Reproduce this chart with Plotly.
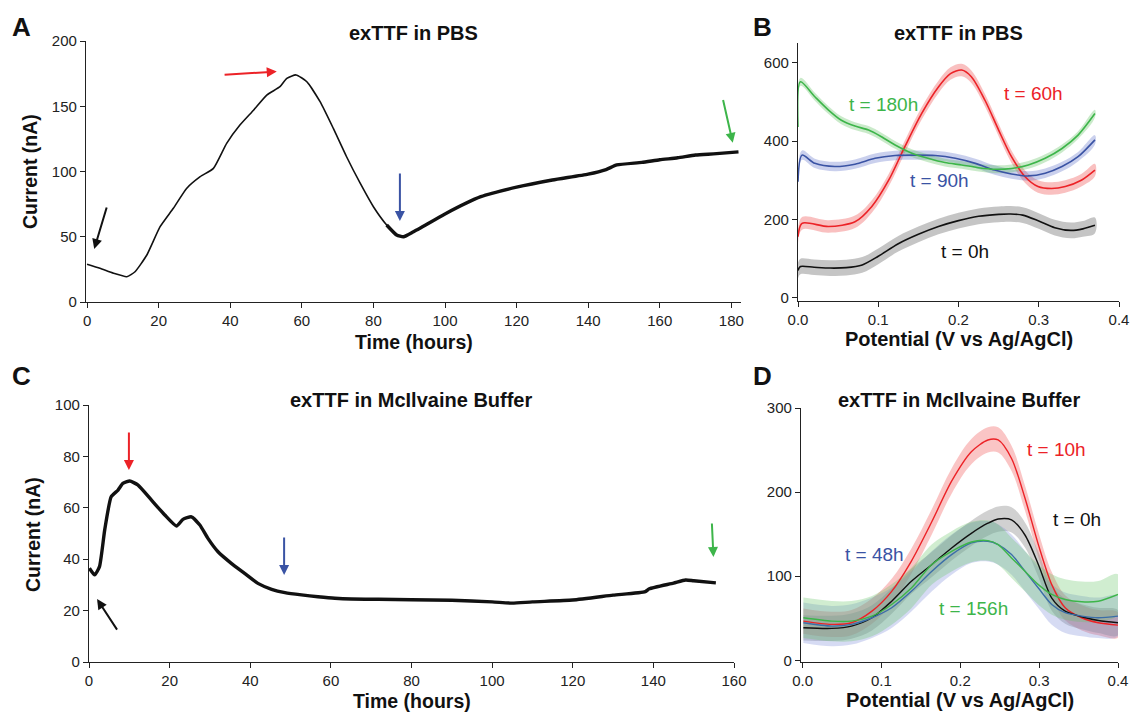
import plotly.graph_objects as go

# ---------------- data ----------------
# Panel A: exTTF in PBS, current vs time
time_a = [0, 3.6, 7.4, 11.1, 13.4, 16.7, 20.4, 24.1, 27.8, 31.6, 35.3, 39.0, 42.7, 46.5,
          50.2, 53.9, 55.8, 58.4, 61.4, 65.1, 68.8, 72.5, 76.3, 80.0, 83.7, 86.5, 88.4,
          91.2, 93.0, 100, 110, 120, 130, 140, 145, 148, 155, 160, 165, 170, 175, 182]
current_a = [28.9, 25.8, 22.0, 19.4, 23.2, 36.0, 57.7, 71.8, 87.0, 96.0, 102.4, 121.6, 135.6, 147.0,
             158.6, 165.0, 171.4, 174.0, 168.8, 153.5, 133.0, 111.3, 91.0, 73.0, 59.0, 51.3, 50.0,
             53.9, 56.5, 67.5, 80.7, 88.0, 93.5, 98.0, 101.5, 105.0, 107.0, 109.0, 110.5, 112.6, 113.5, 115.0]

# Panel C: exTTF in McIlvaine Buffer, current vs time
time_c = [0.1, 1.4, 2.6, 3.9, 5.5, 7.2, 8.4, 10.1, 12.1, 15.5, 18.8, 21.7, 23.3, 25.4, 27.5,
          29.5, 32.0, 35.3, 38.6, 41.9, 45.3, 48.6, 52.7, 56.8, 61.0, 65.1, 71.8, 80, 90,
          100, 105, 110, 120, 130, 138, 139, 145, 148, 150, 155.5]
current_c = [36.5, 33.9, 37.1, 51.4, 64.3, 66.9, 69.5, 70.4, 68.9, 63.0, 57.2, 52.9, 55.5, 56.5, 53.3,
             48.1, 42.9, 38.4, 34.5, 30.6, 28.3, 27.0, 26.1, 25.4, 24.8, 24.5, 24.4, 24.2, 24.0,
             23.4, 22.9, 23.4, 24.1, 26.0, 27.4, 28.5, 30.7, 31.9, 31.6, 30.8]

# Panel B: voltammograms in PBS (potential V, current nA)
pot_b_0 = [0, 0.003, 0.02, 0.04, 0.06, 0.08, 0.1, 0.125, 0.15, 0.175, 0.2, 0.225, 0.25, 0.265,
           0.28, 0.3, 0.32, 0.34, 0.355, 0.37]
cur_b_0 = [70, 80, 78, 76, 77, 84, 106, 138, 162, 182, 197, 208, 213, 214, 211, 196, 179, 172, 176, 185]
pot_b_60 = [0, 0.005, 0.038, 0.071, 0.092, 0.113, 0.133, 0.154, 0.175, 0.19, 0.204, 0.216, 0.233,
            0.25, 0.266, 0.283, 0.299, 0.316, 0.333, 0.353, 0.37]
cur_b_60 = [156, 190, 182, 194, 233, 300, 385, 470, 538, 572, 581, 564, 504, 428, 360, 309, 284,
            279, 284, 300, 326]
pot_b_90 = [0, 0.005, 0.021, 0.046, 0.071, 0.096, 0.121, 0.146, 0.171, 0.196, 0.221, 0.245, 0.266,
            0.287, 0.308, 0.329, 0.349, 0.37]
cur_b_90 = [296, 364, 343, 335, 341, 356, 363, 364, 363, 356, 343, 326, 316, 311, 318, 335, 360, 403]
pot_b_180 = [0, 0.003, 0.021, 0.038, 0.054, 0.071, 0.088, 0.104, 0.121, 0.142, 0.162, 0.183, 0.204,
             0.225, 0.245, 0.266, 0.287, 0.308, 0.329, 0.349, 0.37]
cur_b_180 = [436, 551, 513, 479, 453, 438, 428, 411, 390, 369, 356, 345, 339, 332, 328, 330, 339,
             356, 381, 415, 470]
err_b = {"0h": 20, "60h": 16, "90h": 12, "180h": 10}

# Panel D: voltammograms in McIlvaine buffer
pot_d = [0.001, 0.037, 0.062, 0.088, 0.113, 0.138, 0.164, 0.189, 0.214, 0.235, 0.248, 0.265,
         0.282, 0.299, 0.316, 0.333, 0.354, 0.375, 0.4]
cur_d_10 = [46.6, 42.7, 44.7, 58.5, 82, 118, 165, 213, 248, 262, 262, 240, 193, 137.6, 90, 62.5,
            50.6, 44.7, 41.9]
cur_d_0 = [38.7, 38.0, 40.7, 50.6, 70.3, 94, 114, 133.6, 151, 163, 168, 167, 149, 114, 74, 58.5,
           51.8, 47.4, 44.7]
cur_d_48 = [44.7, 40.7, 42.7, 50.6, 62.5, 82, 106, 125.7, 139.6, 141.5, 137.6, 125.7, 106, 86,
            66.4, 56.6, 52.6, 50.6, 52.6]
cur_d_156 = [50.6, 46.6, 46.6, 52.6, 66.4, 86, 114, 129.6, 140.7, 142.3, 137.6, 121.8, 106, 90,
             78.3, 72.3, 69.6, 70.3, 78.3]
err_d = {"10h": 15, "0h": 15, "48h": 24, "156h": 24}

# axis ticks
ticks_a_x = [0, 20, 40, 60, 80, 100, 120, 140, 160, 180]
ticks_a_y = [0, 50, 100, 150, 200]
ticks_b_y = [0, 200, 400, 600]
ticks_c_x = [0, 20, 40, 60, 80, 100, 120, 140, 160]
ticks_c_y = [0, 20, 40, 60, 80, 100]
ticks_d_y = [0, 100, 200, 300]
ticks_pot = [0.0, 0.1, 0.2, 0.3, 0.4]

# ---------------- figure ----------------
W, H = 1131, 713
FONT = "Liberation Sans, Arial, Helvetica, sans-serif"
RED, GREEN, BLUE, BLACK = "#ec2227", "#3db54a", "#3a53a4", "#111111"


def fx(px):
    return px / W


def fy(py):
    return 1 - py / H


fig = go.Figure()

# Panel A
fig.add_trace(go.Scatter(x=time_a[:27], y=current_a[:27], mode="lines",
                         line=dict(color=BLACK, width=1.6, shape="spline", smoothing=0.5),
                         xaxis="x", yaxis="y", showlegend=False))
fig.add_trace(go.Scatter(x=time_a[24:], y=current_a[24:], mode="lines",
                         line=dict(color=BLACK, width=3.4, shape="spline", smoothing=0.5),
                         xaxis="x", yaxis="y", showlegend=False))

# Panel C
fig.add_trace(go.Scatter(x=time_c, y=current_c, mode="lines",
                         line=dict(color=BLACK, width=3.4, shape="spline", smoothing=0.5),
                         xaxis="x3", yaxis="y3", showlegend=False))


def band(x, y, e, fill, xa, ya):
    up = [v + e for v in y]
    lo = [v - e for v in y]
    fig.add_trace(go.Scatter(x=list(x) + list(x)[::-1], y=up + lo[::-1], mode="lines",
                             fill="toself", fillcolor=fill, line=dict(width=0, shape="spline"),
                             xaxis=xa, yaxis=ya, hoverinfo="skip", showlegend=False))


def curve(x, y, color, xa, ya, w=1.6):
    fig.add_trace(go.Scatter(x=x, y=y, mode="lines",
                             line=dict(color=color, width=w, shape="spline", smoothing=0.8),
                             xaxis=xa, yaxis=ya, showlegend=False))


# Panel B
band(pot_b_0, cur_b_0, err_b["0h"], "rgba(150,150,150,0.55)", "x2", "y2")
band(pot_b_60, cur_b_60, err_b["60h"], "rgba(240,90,90,0.38)", "x2", "y2")
band(pot_b_90, cur_b_90, err_b["90h"], "rgba(90,110,200,0.32)", "x2", "y2")
band(pot_b_180, cur_b_180, err_b["180h"], "rgba(90,190,90,0.32)", "x2", "y2")
curve(pot_b_0, cur_b_0, BLACK, "x2", "y2")
curve(pot_b_60, cur_b_60, RED, "x2", "y2")
curve(pot_b_90, cur_b_90, BLUE, "x2", "y2")
curve(pot_b_180, cur_b_180, GREEN, "x2", "y2")

# Panel D
band(pot_d, cur_d_10, err_d["10h"], "rgba(240,90,90,0.35)", "x4", "y4")
band(pot_d, cur_d_0, err_d["0h"], "rgba(140,140,140,0.40)", "x4", "y4")
band(pot_d, cur_d_48, err_d["48h"], "rgba(120,135,215,0.30)", "x4", "y4")
band(pot_d, cur_d_156, err_d["156h"], "rgba(100,195,100,0.30)", "x4", "y4")
curve(pot_d, cur_d_10, RED, "x4", "y4", 1.4)
curve(pot_d, cur_d_0, BLACK, "x4", "y4", 1.4)
curve(pot_d, cur_d_48, "#3b6ea8", "x4", "y4", 1.4)
curve(pot_d, cur_d_156, GREEN, "x4", "y4", 1.4)

axis_common = dict(showline=True, linecolor="#222", linewidth=1.3, ticks="outside", ticklen=5,
                   tickwidth=1.2, tickcolor="#222", showgrid=False, zeroline=False,
                   automargin=False,
                   tickfont=dict(family=FONT, size=15, color="#222"), fixedrange=True)

fig.update_layout(
    template="none",
    width=W, height=H, margin=dict(l=0, r=0, t=0, b=0, pad=0),
    paper_bgcolor="white", plot_bgcolor="white",
    font=dict(family=FONT, color="#111"),
    xaxis=dict(axis_common, domain=[fx(86), fx(741)], range=[-0.3, 182.7], tickvals=ticks_a_x,
               anchor="y"),
    yaxis=dict(axis_common, domain=[fy(302), fy(41)], range=[0, 200], tickvals=ticks_a_y,
               anchor="x"),
    xaxis2=dict(axis_common, domain=[fx(798), fx(1119)], range=[0, 0.4], tickvals=ticks_pot,
                tickformat=".1f", anchor="y2"),
    yaxis2=dict(axis_common, domain=[fy(301), fy(43)], range=[-8, 650], tickvals=ticks_b_y,
                anchor="x2"),
    xaxis3=dict(axis_common, domain=[fx(89), fx(734)], range=[0, 160], tickvals=ticks_c_x,
                anchor="y3"),
    yaxis3=dict(axis_common, domain=[fy(662), fy(405)], range=[0, 100], tickvals=ticks_c_y,
                anchor="x3"),
    xaxis4=dict(axis_common, domain=[fx(801), fx(1118)], range=[-0.002, 0.4], tickvals=ticks_pot,
                tickformat=".1f", anchor="y4"),
    yaxis4=dict(axis_common, domain=[fy(662), fy(408)], range=[-2, 300], tickvals=ticks_d_y,
                anchor="x4"),
)

ann = []


def text(px, py, s, size, color="#111", bold=False, angle=0):
    ann.append(dict(x=fx(px), y=fy(py), xref="paper", yref="paper", text=f"<b>{s}</b>" if bold else s,
                    showarrow=False, xanchor="center", yanchor="middle", textangle=angle,
                    font=dict(family=FONT, size=size, color=color)))


# panel letters
text(21, 27, "A", 26, bold=True)
text(762, 27, "B", 26, bold=True)
text(21, 376, "C", 26, bold=True)
text(762, 376, "D", 26, bold=True)
# titles
text(413, 33, "exTTF in PBS", 20, bold=True)
text(958, 33, "exTTF in PBS", 20, bold=True)
text(411, 400, "exTTF in McIlvaine Buffer", 20, bold=True)
text(959, 400, "exTTF in McIlvaine Buffer", 20, bold=True)
# axis titles
text(414, 342, "Time (hours)", 19.5, bold=True)
text(412, 701, "Time (hours)", 19.5, bold=True)
text(959, 339, "Potential (V vs Ag/AgCl)", 20, bold=True)
text(960, 700, "Potential (V vs Ag/AgCl)", 20, bold=True)
text(30, 172, "Current (nA)", 19.5, bold=True, angle=-90)
text(33, 535, "Current (nA)", 19.5, bold=True, angle=-90)
# curve labels B
text(883, 104, "t = 180h", 19, GREEN)
text(1033, 93, "t = 60h", 19, RED)
text(939, 180, "t = 90h", 19, BLUE)
text(965, 251, "t = 0h", 19, BLACK)
# curve labels D
text(1056, 449, "t = 10h", 19, RED)
text(1077, 519, "t = 0h", 19, BLACK)
text(874, 554, "t = 48h", 19, BLUE)
text(973, 608, "t = 156h", 19, GREEN)


def arrow(xa, ya, x, y, ax, ay, color):
    ann.append(dict(x=x, y=y, ax=ax, ay=ay, xref=xa, yref=ya, axref=xa, ayref=ya, text="",
                    showarrow=True, arrowhead=2, arrowsize=1, arrowwidth=2, arrowcolor=color,
                    standoff=0, startstandoff=0))


# arrows panel A (head, tail)
arrow("x", "y", 2.0, 40.6, 5.6, 73.6, BLACK)
arrow("x", "y", 53.0, 176.6, 38.0, 174.0, RED)
arrow("x", "y", 87.4, 62.0, 87.4, 99.6, BLUE)
arrow("x", "y", 180.4, 122.0, 177.6, 156.0, GREEN)
# arrows panel C
arrow("x3", "y3", 2.0, 24.5, 7.2, 12.0, BLACK)
arrow("x3", "y3", 9.9, 74.7, 9.9, 89.9, RED)
arrow("x3", "y3", 48.4, 33.9, 48.4, 49.0, BLUE)
arrow("x3", "y3", 154.9, 40.9, 154.5, 54.5, GREEN)

fig.update_layout(annotations=ann)
fig.write_html("out.html", config={"displayModeBar": False},
               post_script="document.body.style.margin='0';document.body.style.overflow='hidden';")
